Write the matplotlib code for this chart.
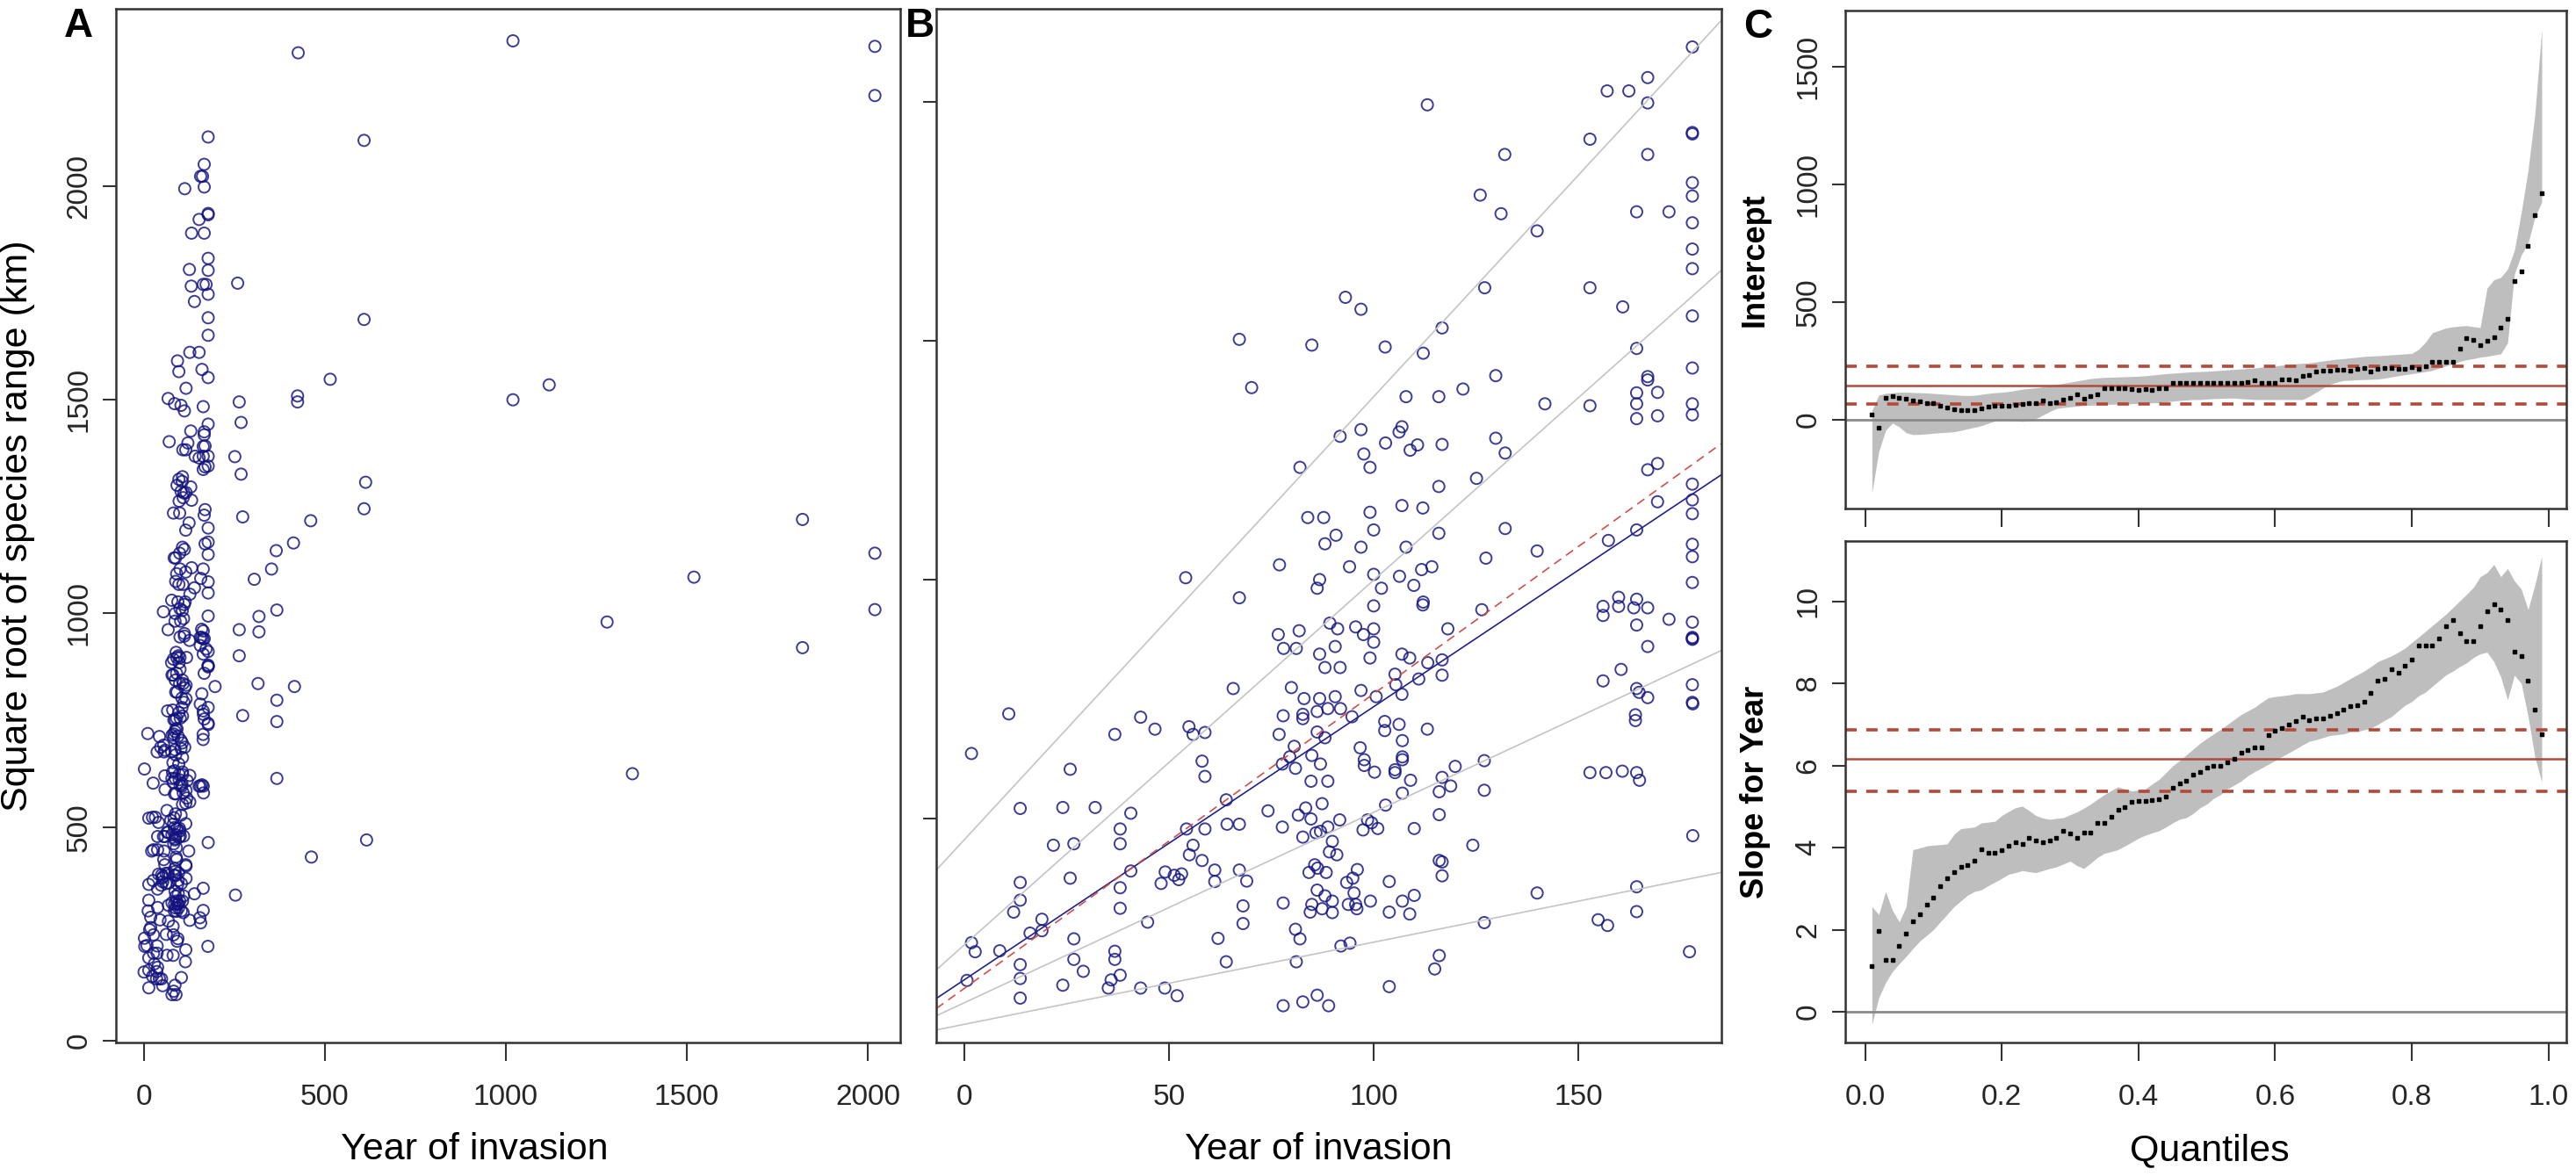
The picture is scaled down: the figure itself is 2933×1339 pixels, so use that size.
import numpy as np
import matplotlib
matplotlib.use("Agg")
import matplotlib.pyplot as plt

plt.rcParams['font.family'] = ['Liberation Sans', 'DejaVu Sans']

# ---- scatter data: year of invasion vs square root of species range (km) ----
# upper part of panel B
year_1 = [177.8, 166.9, 157.0, 162.3, 166.9, 113.1, 177.8, 177.8,
          152.8, 132.0, 166.9, 177.8, 177.8, 126.0, 131.1, 164.2,
          172.1, 177.8, 139.9, 177.8, 177.8, 127.1, 152.8, 93.1,
          96.9, 160.8, 177.8, 116.7, 67.2, 84.9, 102.8, 112.1,
          164.2, 177.8, 129.8, 166.9, 166.9, 70.2, 121.8, 164.2,
          169.3, 107.9, 115.9, 141.8, 152.8, 164.2, 177.8, 164.2,
          169.3, 177.8, 96.9, 106.9, 106.2, 91.8, 102.9, 110.7,
          108.9, 116.7, 129.8, 132.1, 97.6, 99.1, 82.0, 166.9,
          169.3, 125.1, 115.9, 177.8, 177.8, 169.3, 177.8, 83.9,
          87.8, 99.1, 106.9, 112.0, 100.0, 90.8, 88.1, 96.9,
          107.9, 115.9, 132.1, 157.3, 164.2, 177.8, 177.8, 139.9,
          127.4, 77.0, 94.1, 100.0, 106.3, 111.7, 114.2, 86.8,
          86.2, 54.1, 101.9, 109.8, 177.8, 159.8, 164.2, 67.2,
          112.1, 100.0, 126.4, 156.0, 159.8, 163.5, 166.9, 112.0]
range_1 = [2115, 2051, 2023, 2023, 1998, 1994, 1936, 1933,
           1922, 1890, 1890, 1831, 1803, 1805, 1766, 1770,
           1770, 1747, 1730, 1692, 1651, 1611, 1611, 1591,
           1566, 1571, 1552, 1527, 1503, 1491, 1487, 1474,
           1484, 1443, 1427, 1425, 1418, 1402, 1399, 1391,
           1392, 1383, 1383, 1368, 1364, 1368, 1368, 1337,
           1343, 1345, 1314, 1320, 1309, 1300, 1286, 1282,
           1271, 1283, 1296, 1265, 1263, 1235, 1235, 1230,
           1243, 1212, 1195, 1200, 1167, 1163, 1138, 1130,
           1130, 1141, 1155, 1150, 1104, 1093, 1075, 1068,
           1068, 1097, 1107, 1082, 1104, 1074, 1048, 1060,
           1045, 1031, 1027, 1011, 1007, 1021, 1027, 1000,
           982, 1004, 982, 988, 994, 963, 959, 962,
           953, 945, 937, 944, 944, 941, 941, 947]

# middle band of panel B
year_2 = [156.0, 177.8, 164.2, 172.1, 177.8, 177.8, 177.8, 166.9,
          118.1, 76.7, 81.8, 78.0, 81.1, 89.3, 91.2, 86.8,
          90.6, 95.6, 97.5, 100.0, 100.0, 99.1, 88.1, 91.8,
          106.9, 108.8, 113.2, 116.7, 116.7, 105.2, 111.0, 65.7,
          79.9, 83.0, 86.8, 90.6, 96.9, 100.6, 105.4, 106.9,
          156.0, 160.4, 164.2, 164.8, 166.9, 177.8, 177.8]
range_2 = [925, 911, 905, 917, 877, 879, 875, 860,
           897, 885, 893, 856, 856, 909, 897, 844,
           860, 901, 885, 897, 869, 836, 816, 816,
           844, 836, 826, 832, 800, 802, 792, 772,
           774, 751, 751, 755, 768, 755, 780, 760,
           788, 812, 772, 764, 753, 780, 743]

# lower left of panel B
year_3 = [10.9, 1.8, 25.9, 36.8, 43.1, 46.6, 54.9, 55.9,
          58.8, 58.1, 58.8, 13.7, 24.1, 32.0, 40.7, 38.1,
          38.1, 21.8, 26.8, 25.9, 13.7, 13.7, 12.1, 19.0,
          19.0, 16.1, 38.1, 38.1, 40.7, 54.3, 58.8, 55.9,
          55.0, 58.1, 49.1, 51.3, 48.1, 52.4, 53.1, 61.2,
          61.2, 64.0, 64.2, 67.2, 74.2, 67.2, 69.0, 68.1,
          68.1, 44.8, 62.0, 64.0, 1.8, 2.7, 8.7, 0.7,
          13.7, 13.7, 13.7, 26.8, 26.8, 29.1, 24.1, 36.8,
          36.8, 38.1, 35.9, 35.2, 43.1, 49.0, 52.0]
range_3 = [719, 636, 603, 676, 712, 687, 692, 676,
           680, 620, 588, 521, 523, 523, 511, 478,
           447, 444, 447, 375, 366, 329, 304, 289,
           265, 260, 355, 312, 390, 478, 478, 444,
           424, 412, 388, 381, 364, 372, 384, 392,
           368, 539, 488, 488, 516, 392, 369, 317,
           280, 283, 249, 200, 240, 221, 223, 161,
           194, 165, 124, 248, 205, 180, 151, 222,
           205, 172, 162, 145, 145, 145, 129]

# lower right of panel B
year_4 = [77.9, 82.7, 82.7, 86.2, 88.8, 91.9, 76.9, 86.2,
          88.1, 80.6, 79.5, 80.9, 77.7, 84.9, 87.0, 84.7,
          88.8, 94.7, 102.7, 102.7, 106.2, 113.1, 96.7, 97.7,
          97.7, 100.2, 107.0, 107.0, 107.0, 105.2, 105.2, 109.0,
          107.0, 102.9, 116.0, 116.7, 118.8, 119.9, 127.0, 127.0,
          116.0, 124.2, 152.8, 156.7, 160.7, 164.2, 164.9, 163.9,
          163.9, 177.9, 177.9, 87.4, 83.4, 81.6, 84.7, 77.7,
          91.7, 88.8, 85.9, 82.7, 87.0, 98.5, 99.5, 97.4,
          101.0, 109.9, 89.9, 89.2, 91.0, 84.2, 86.3, 88.4,
          85.6, 93.4, 94.9, 96.0, 86.2, 88.1, 89.9, 84.9,
          84.5, 87.4, 89.9, 93.8, 95.6, 95.2, 95.9, 99.2,
          103.8, 103.8, 107.0, 109.9, 108.8, 116.0, 116.7, 116.7,
          77.9, 80.9, 82.0, 81.1, 92.0, 94.2, 103.8, 77.9,
          82.7, 86.2, 89.0, 116.0, 114.9, 127.0, 139.9, 164.2,
          164.2, 154.8, 157.1, 177.1]
range_4 = [715, 718, 709, 724, 730, 730, 676, 681,
           669, 651, 629, 605, 614, 632, 614, 578,
           578, 713, 703, 684, 697, 687, 648, 623,
           611, 597, 663, 629, 623, 602, 596, 580,
           553, 528, 556, 586, 568, 609, 621, 559,
           508, 444, 596, 596, 599, 596, 580, 717,
           705, 740, 464, 531, 522, 507, 499, 482,
           497, 482, 470, 461, 473, 497, 491, 476,
           479, 479, 452, 430, 424, 387, 396, 387,
           403, 366, 375, 393, 350, 338, 327, 320,
           304, 311, 303, 320, 320, 344, 311, 327,
           368, 304, 327, 339, 300, 412, 409, 380,
           323, 268, 248, 200, 233, 239, 148, 108,
           116, 130, 108, 213, 185, 282, 344, 357,
           305, 288, 276, 221]

# older invasions, only inside panel A
year_5 = [426.6, 608.6, 259.3, 608.6, 515.0, 424.8, 424.8, 263.6,
          268.8, 251.5, 268.8, 612.9, 608.6, 273.2, 461.2, 413.6,
          365.9, 352.9, 305.2, 367.6, 318.2, 318.2, 263.6, 263.6,
          315.6, 416.2, 367.6, 367.6, 273.2, 367.6, 463.0, 615.5,
          253.2, 196.9, 1020, 1020, 1120, 1280, 1350, 1520,
          1820, 1820, 2020, 2020, 2020, 2020]
range_5 = [2312, 2107, 1773, 1688, 1548, 1509, 1495, 1495,
           1447, 1367, 1326, 1307, 1245, 1226, 1217, 1165,
           1147, 1104, 1080, 1008, 993, 957, 962, 901,
           836, 829, 797, 747, 761, 614, 430, 470,
           341, 829, 2340, 1500, 1535, 980, 625, 1085,
           1220, 920, 2327, 2212, 1141, 1009]

# ---- quantile regression lines shown in panel B (intercept, slope) ----
grey_line_intercepts = [69, 114, 235, 455]
grey_line_slopes = [1.72, 3.99, 7.64, 9.28]
median_intercept, median_slope = 162, 5.72

# ---- panel C: quantile process ----
quantiles = np.arange(1, 100) / 100
intercept_est = [24, -35, 92, 102, 95, 90, 82, 80, 72, 70,
                 61, 51, 45, 42, 42, 40, 47, 55, 61, 61,
                 60, 62, 67, 72, 72, 82, 70, 74, 85, 95,
                 107, 90, 102, 110, 134, 134, 133, 133, 130, 128,
                 130, 128, 133, 136, 155, 158, 158, 158, 158, 158,
                 158, 158, 158, 158, 158, 162, 168, 158, 158, 158,
                 170, 170, 168, 185, 192, 204, 210, 208, 212, 214,
                 210, 218, 220, 206, 215, 219, 221, 218, 216, 222,
                 216, 226, 246, 246, 246, 246, 303, 347, 339, 319,
                 335, 352, 392, 428, 590, 632, 740, 869, 962]
intercept_lo = [-310, -135, -45, -14, -30, -55, -63, -62, -60, -57,
                -55, -53, -51, -45, -38, -32, -25, -15, -5, -1,
                -3, -5, -7, -5, 5, 20, 35, 48, 52, 55,
                58, 61, 62, 63, 65, 66, 67, 67, 68, 70,
                71, 72, 73, 76, 79, 82, 84, 86, 86, 88,
                90, 91, 92, 92, 90, 88, 86, 86, 86, 86,
                86, 86, 86, 86, 100, 117, 135, 150, 160, 167,
                168, 170, 171, 172, 173, 177, 182, 187, 192, 196,
                200, 205, 210, 220, 229, 238, 248, 255, 260, 266,
                270, 275, 280, 327, 619, 700, 750, 860, 926]
intercept_hi = [40, 105, 112, 115, 117, 117, 116, 115, 114, 112,
                110, 108, 106, 104, 103, 104, 108, 112, 115, 117,
                120, 125, 130, 133, 136, 140, 145, 150, 155, 160,
                165, 170, 175, 178, 180, 181, 182, 183, 184, 185,
                187, 190, 193, 196, 198, 200, 202, 204, 205, 206,
                208, 210, 212, 214, 216, 218, 220, 224, 227, 229,
                232, 235, 238, 240, 242, 246, 250, 254, 258, 260,
                263, 266, 269, 271, 272, 274, 276, 278, 280, 282,
                300, 330, 370, 380, 390, 395, 398, 400, 396, 392,
                560, 595, 605, 640, 720, 880, 1060, 1300, 1660]
slope_est = [1.12, 1.96, 1.26, 1.26, 1.61, 1.91, 2.21, 2.37, 2.60, 2.79,
             3.07, 3.25, 3.41, 3.53, 3.58, 3.67, 3.95, 3.87, 3.87, 3.93,
             4.04, 4.13, 4.09, 4.24, 4.18, 4.13, 4.18, 4.23, 4.41, 4.34,
             4.23, 4.36, 4.36, 4.60, 4.60, 4.74, 4.92, 4.99, 5.11, 5.13,
             5.13, 5.15, 5.17, 5.24, 5.45, 5.57, 5.63, 5.78, 5.85, 5.94,
             6.00, 5.99, 6.08, 6.17, 6.31, 6.37, 6.45, 6.45, 6.73, 6.84,
             6.91, 7.00, 7.08, 7.19, 7.10, 7.14, 7.14, 7.21, 7.28, 7.37,
             7.44, 7.47, 7.56, 7.76, 8.07, 8.12, 8.35, 8.25, 8.44, 8.58,
             8.93, 8.93, 8.93, 9.09, 9.39, 9.55, 9.23, 9.04, 9.04, 9.39,
             9.76, 9.92, 9.80, 9.55, 8.78, 8.67, 8.07, 7.37, 6.77]
slope_lo = [-0.31, 0.34, 0.71, 0.98, 1.17, 1.35, 1.54, 1.72, 1.86, 2.00,
            2.19, 2.37, 2.56, 2.70, 2.84, 2.93, 2.97, 3.07, 3.16, 3.25,
            3.35, 3.39, 3.44, 3.41, 3.39, 3.44, 3.49, 3.53, 3.60, 3.67,
            3.56, 3.49, 3.62, 3.76, 3.86, 3.90, 3.95, 4.04, 4.13, 4.23,
            4.30, 4.36, 4.41, 4.50, 4.60, 4.69, 4.73, 4.83, 4.97, 5.06,
            5.20, 5.29, 5.43, 5.52, 5.62, 5.75, 5.85, 5.94, 6.03, 6.12,
            6.22, 6.31, 6.40, 6.50, 6.59, 6.63, 6.68, 6.73, 6.75, 6.77,
            6.82, 6.82, 6.87, 6.91, 7.00, 7.10, 7.19, 7.33, 7.47, 7.56,
            7.70, 7.79, 7.93, 8.07, 8.21, 8.30, 8.41, 8.50, 8.63, 8.72,
            8.76, 8.53, 8.16, 7.60, 8.20, 8.00, 7.20, 6.20, 5.60]
slope_hi = [2.56, 2.37, 2.93, 2.47, 2.19, 2.56, 3.95, 3.99, 4.04, 4.06,
            4.07, 4.09, 4.32, 4.46, 4.48, 4.50, 4.60, 4.62, 4.64, 4.78,
            4.88, 4.97, 5.01, 4.90, 4.78, 4.72, 4.69, 4.71, 4.73, 4.80,
            4.87, 4.96, 5.06, 5.18, 5.29, 5.39, 5.48, 5.43, 5.38, 5.40,
            5.43, 5.55, 5.66, 5.82, 5.99, 6.12, 6.26, 6.40, 6.54, 6.66,
            6.77, 6.88, 7.00, 7.12, 7.24, 7.33, 7.42, 7.54, 7.65, 7.68,
            7.70, 7.72, 7.75, 7.75, 7.75, 7.77, 7.79, 7.86, 7.93, 8.02,
            8.12, 8.21, 8.30, 8.41, 8.53, 8.60, 8.67, 8.76, 8.86, 9.00,
            9.13, 9.27, 9.41, 9.55, 9.69, 9.85, 10.01, 10.17, 10.34, 10.60,
            10.70, 10.90, 10.60, 10.80, 10.50, 10.30, 9.80, 10.40, 11.10]
ols_intercept = [144, 67, 229]   # estimate, lower, upper
ols_slope = [6.17, 5.38, 6.87]

year = np.array(year_1 + year_2 + year_3 + year_4 + year_5)
sqrt_range = np.array(range_1 + range_2 + range_3 + range_4 + range_5)

# ---- figure ----
W, H = 2933, 1339
fig = plt.figure(figsize=(W / 100, H / 100), dpi=100)


def box(l, t, r, b):
    return [l / W, 1 - b / H, (r - l) / W, (b - t) / H]


axA = fig.add_axes(box(132, 10, 1025, 1187))
axB = fig.add_axes(box(1066, 10, 1960, 1187))
axC1 = fig.add_axes(box(2101, 12, 2922, 579))
axC2 = fig.add_axes(box(2101, 616, 2922, 1187))

edge = '#333333'


def style(ax):
    for s in ax.spines.values():
        s.set_linewidth(1.8)
        s.set_color(edge)
    ax.tick_params(axis='x', length=15, width=1.5, pad=19, labelsize=24,
                   color=edge, labelcolor='#262626')
    ax.tick_params(axis='y', length=11, width=1.5, pad=8, labelsize=24,
                   color=edge, labelcolor='#262626', labelrotation=90)
    for lab in ax.get_yticklabels():
        lab.set_va('center')


circle_kw = dict(s=88, facecolors='none', edgecolors='#12127e',
                 linewidths=1.4, alpha=0.82)

# panel A
axA.scatter(year, sqrt_range, **circle_kw)
axA.set_xlim(-77, 2090)
axA.set_ylim(-4, 2415)
axA.set_xticks([0, 500, 1000, 1500, 2000])
axA.set_yticks([0, 500, 1000, 1500, 2000])
style(axA)
axA.set_xlabel('Year of invasion', fontsize=31)
axA.xaxis.label.set_va('center')
axA.xaxis.set_label_coords(0.457, -0.104)
axA.set_ylabel('Square root of species range (km)', fontsize=31)
axA.yaxis.label.set_va('center')
axA.yaxis.set_label_coords(-0.125, 0.5)

# panel B
keep = year <= 185
axB.scatter(year[keep], sqrt_range[keep], **circle_kw)
for a, b in zip(grey_line_intercepts, grey_line_slopes):
    axB.axline((0, a), slope=b, color='#c4c4c4', lw=1.2)
axB.axline((0, median_intercept), slope=median_slope, color='#22228a', lw=1.2)
axB.axline((0, ols_intercept[0]), slope=ols_slope[0], color='#d0504a', lw=1.2,
           linestyle=(0, (6, 4)))
axB.set_xlim(-6.8, 184.9)
axB.set_ylim(31, 2195)
axB.set_xticks([0, 50, 100, 150])
axB.set_yticks([500, 1000, 1500, 2000])
style(axB)
axB.set_yticklabels([])
axB.set_xlabel('Year of invasion', fontsize=31)
axB.xaxis.label.set_va('center')
axB.xaxis.set_label_coords(0.487, -0.104)

# panel C
red = '#b14a3a'
for ax, est, lo, hi, ols, lims, ticks, lab in [
        (axC1, intercept_est, intercept_lo, intercept_hi, ols_intercept,
         (-377, 1739), [0, 500, 1000, 1500], 'Intercept'),
        (axC2, slope_est, slope_lo, slope_hi, ols_slope,
         (-0.75, 11.47), [0, 2, 4, 6, 8, 10], 'Slope for Year')]:
    ax.fill_between(quantiles, lo, hi, color='#bebebe', lw=0)
    ax.axhline(0, color='#8a8a8a', lw=2.0)
    ax.axhline(ols[0], color=red, lw=1.8)
    ax.axhline(ols[1], color=red, lw=2.6, linestyle=(0, (3.6, 3.0)))
    ax.axhline(ols[2], color=red, lw=2.6, linestyle=(0, (3.6, 3.0)))
    ax.plot(quantiles, est, linestyle='none', marker='s', ms=3.4,
            color='black')
    ax.set_xlim(-0.029, 1.026)
    ax.set_ylim(*lims)
    ax.set_xticks([0.0, 0.2, 0.4, 0.6, 0.8, 1.0])
    ax.set_yticks(ticks)
    style(ax)
    ax.set_ylabel(lab, fontsize=26, fontweight='bold')
    ax.yaxis.label.set_va('center')
    ax.yaxis.set_label_coords(-0.125, 0.5)

axC1.set_xticklabels([])
axC2.set_xticklabels(['0.0', '0.2', '0.4', '0.6', '0.8', '1.0'])
axC2.set_xlabel('Quantiles', fontsize=31)
axC2.xaxis.label.set_va('center')
axC2.xaxis.set_label_coords(0.505, -0.216)

# panel letters
for x, y, letter in [(89, 30, 'A'), (1047, 30, 'B'), (2002, 31, 'C')]:
    fig.text(x / W, 1 - y / H, letter, fontsize=33, fontweight='bold',
             ha='center', va='center')

fig.savefig('out.png', dpi=100)
